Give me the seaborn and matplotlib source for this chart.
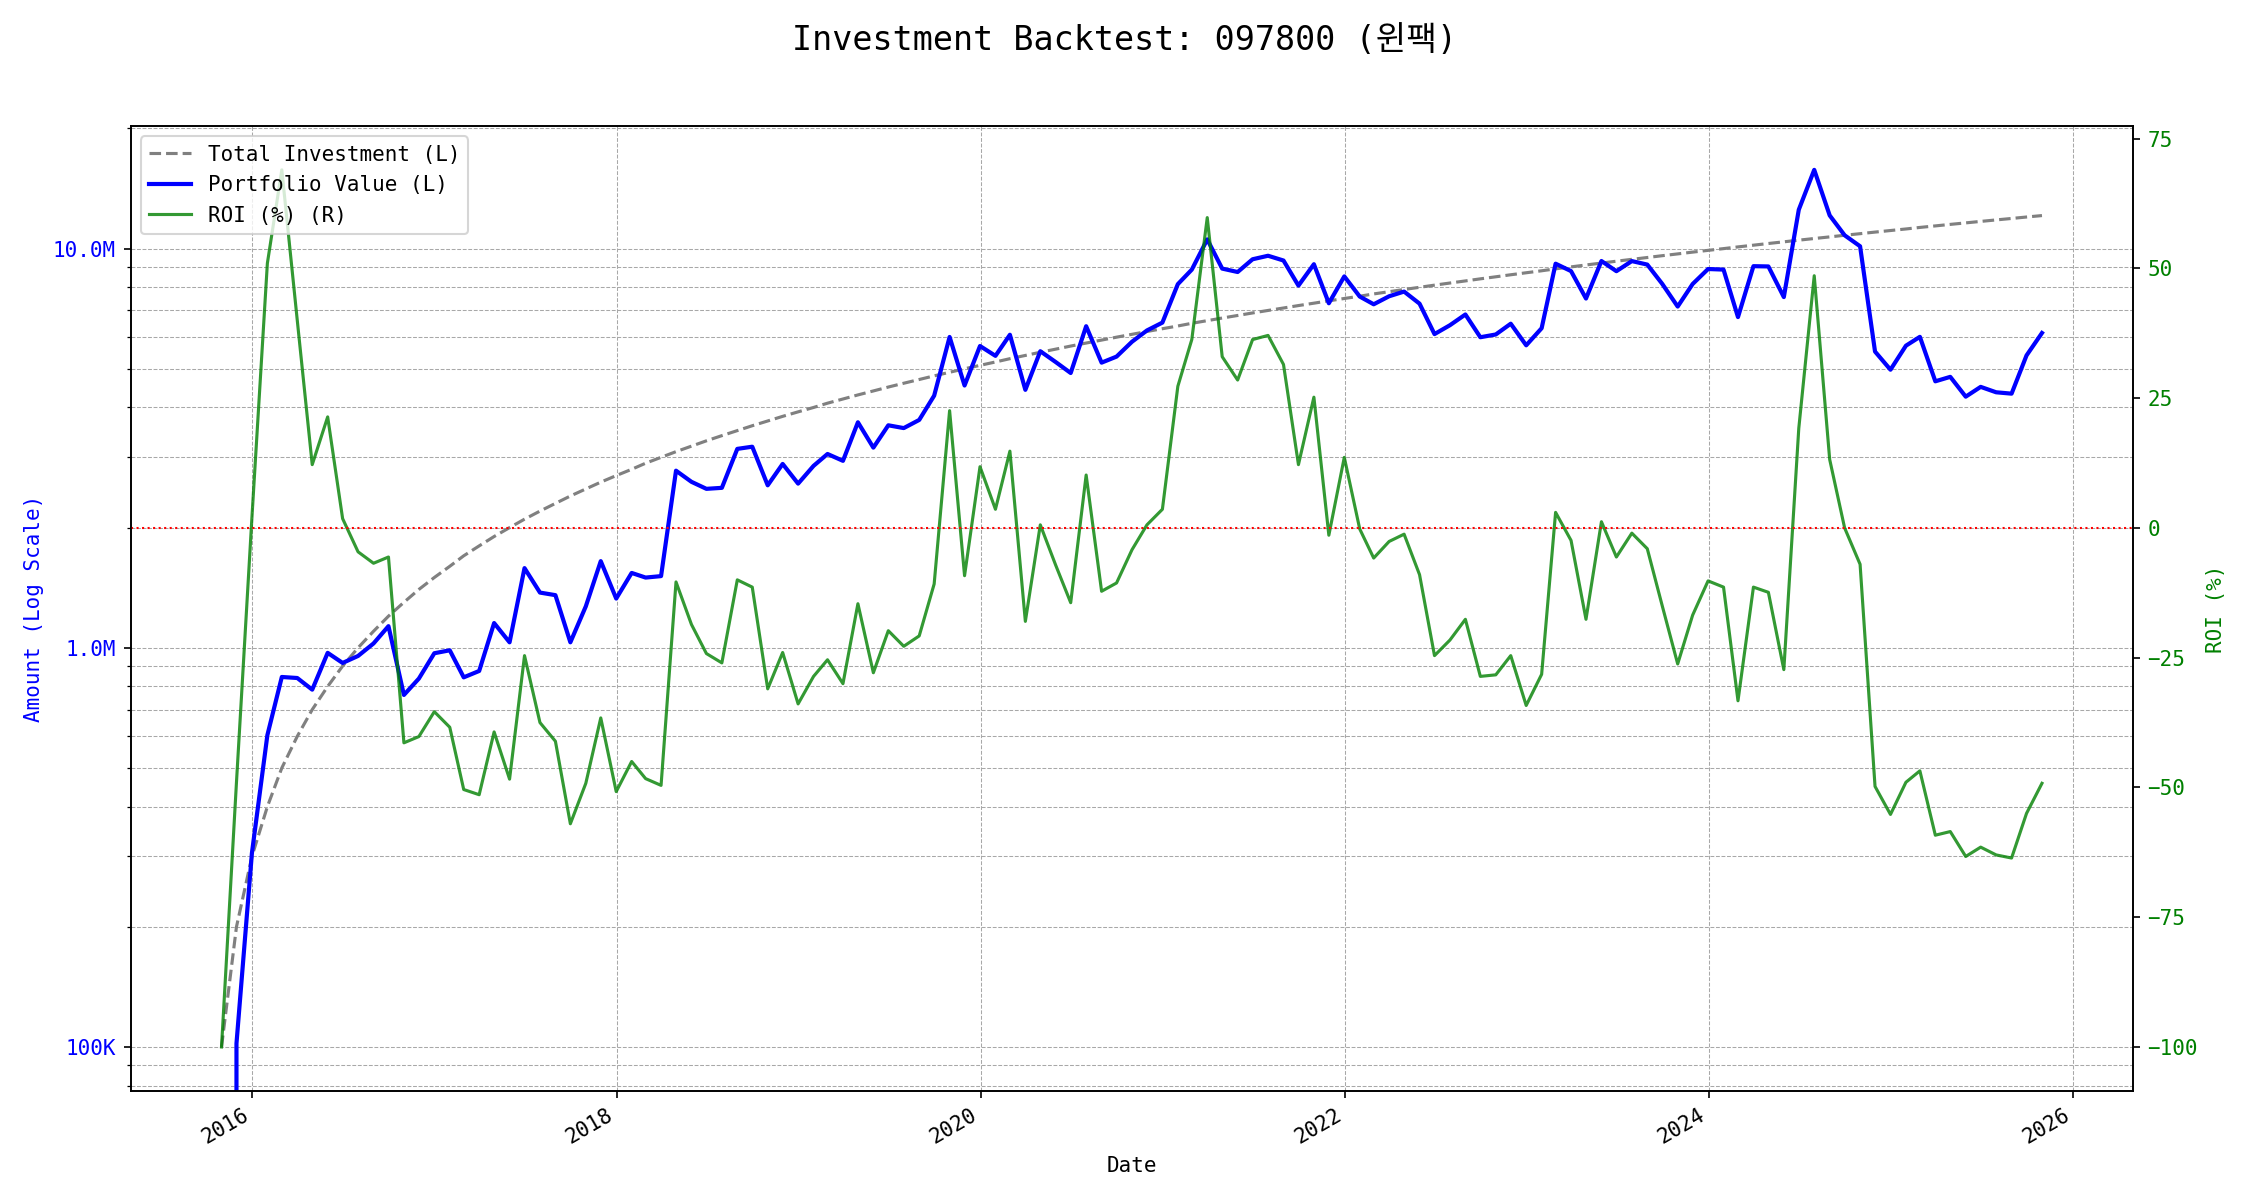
import numpy as np
import pandas as pd
import matplotlib
matplotlib.use("Agg")
import matplotlib.pyplot as plt
import matplotlib.ticker as mticker
import seaborn as sns

# month-end dates of the backtest
dates = pd.date_range("2015-10-31", periods=121, freq="ME")

# monthly contribution (KRW)
deposits = [100_000] * 121

# ROI (%)
roi = [
    -100, -49, 2, 51, 69, 40, 12.2, 21.4, 1.8, -4.6, -6.8, -5.6,
    -41.4, -40.2, -35.4, -38.4, -50.4, -51.4, -39.3, -48.4, -24.6, -37.5, -41.1, -57,
    -49.2, -36.6, -50.8, -45, -48.3, -49.6, -10.4, -18.6, -24.2, -26, -10, -11.4,
    -31, -24, -33.9, -28.6, -25.4, -30, -14.6, -27.9, -19.8, -22.8, -20.8, -10.8,
    22.6, -9.2, 11.8, 3.6, 14.8, -18, 0.6, -7.2, -14.4, 10.2, -12.2, -10.6,
    -4.2, 0.6, 3.6, 27.3, 36.3, 59.8, 33, 28.5, 36.3, 37.1, 31.5, 12.2,
    25.2, -1.4, 13.6, -0.2, -5.8, -2.6, -1.2, -9, -24.6, -21.6, -17.6, -28.6,
    -28.3, -24.6, -34.2, -28.2, 3, -2.4, -17.6, 1.2, -5.6, -1, -4, -15,
    -26.2, -16.8, -10.2, -11.4, -33.3, -11.4, -12.4, -27.3, 19.2, 48.6, 13.2, 0,
    -7, -49.8, -55.2, -49, -46.8, -59.2, -58.5, -63.3, -61.5, -63, -63.6, -55,
    -49.2,
]

total_investment = np.cumsum(deposits)
portfolio_value = total_investment * (1 + np.array(roi) / 100)

plt.rcParams["font.family"] = ["DejaVu Sans Mono", "Noto Sans CJK KR"]
plt.rcParams["axes.unicode_minus"] = True

fig, ax1 = plt.subplots(figsize=(15, 8), dpi=150)

sns.lineplot(x=dates, y=total_investment, ax=ax1, color="gray", linestyle="--",
             linewidth=1.5, label="Total Investment (L)")
sns.lineplot(x=dates, y=portfolio_value, ax=ax1, color="blue", linewidth=2,
             label="Portfolio Value (L)")
ax1.set_yscale("log")


def money_fmt(x, pos):
    if x >= 1e6:
        return f"{x / 1e6:.1f}M"
    if x >= 1e3:
        return f"{x / 1e3:.0f}K"
    return f"{x:.0f}"


ax1.yaxis.set_major_formatter(mticker.FuncFormatter(money_fmt))
ax1.yaxis.set_minor_formatter(mticker.NullFormatter())
ax1.set_ylabel("Amount (Log Scale)", color="blue")
ax1.tick_params(axis="y", labelcolor="blue")
ax1.set_xlabel("Date")
ax1.grid(True, which="both", linestyle="--", linewidth=0.5, color="#a8a8a8")

ax2 = ax1.twinx()
sns.lineplot(x=dates, y=roi, ax=ax2, color="green", alpha=0.8, linewidth=1.5,
             label="ROI (%) (R)")
ax2.axhline(0, color="red", linestyle=":", linewidth=1)
ax2.set_ylabel("ROI (%)", color="green")
ax2.tick_params(axis="y", labelcolor="green")

for ax in (ax1, ax2):
    if ax.get_legend() is not None:
        ax.get_legend().remove()
h1, l1 = ax1.get_legend_handles_labels()
h2, l2 = ax2.get_legend_handles_labels()
ax2.legend(h1 + h2, l1 + l2, loc="upper left")

fig.suptitle("Investment Backtest: 097800 (윈팩)", fontsize=16, y=0.98)
fig.autofmt_xdate()
fig.subplots_adjust(left=0.058, right=0.948, top=0.895, bottom=0.091)

fig.savefig("out.png", dpi=150)
